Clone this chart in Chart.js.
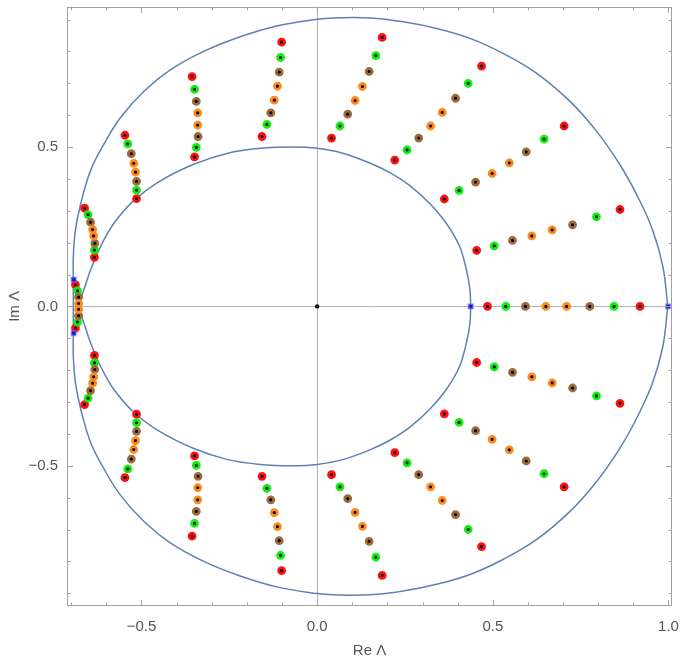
<!DOCTYPE html>
<html>
<head>
<meta charset="utf-8">
<script src="https://cdn.jsdelivr.net/npm/chart.js@4.4.1/dist/chart.umd.min.js"></script>
<style>
  html, body { margin: 0; padding: 0; background: #fff; }
  #chart { display: block; }
</style>
</head>
<body>
<canvas id="chart" width="681" height="663"></canvas>
<script>
// outer band edge, upper half (right -> left); lower half is its mirror image
const outerX = [0.998, 0.984, 0.955, 0.913, 0.861, 0.795, 0.719, 0.624, 0.529, 0.435, 0.34, 0.245, 0.15, 0.046, 0.0,
  -0.115, -0.219, -0.323, -0.418, -0.493, -0.56, -0.607, -0.645, -0.673, -0.688, -0.694, -0.694, -0.694];
const outerY = [0, 0.125, 0.239, 0.343, 0.446, 0.55, 0.644, 0.732, 0.794, 0.841, 0.872, 0.893, 0.905, 0.905, 0.901,
  0.88, 0.846, 0.8, 0.742, 0.675, 0.592, 0.509, 0.426, 0.322, 0.239, 0.156, 0.083, 0];

// inner band edge, upper half
const innerX = [0.437, 0.435, 0.425, 0.406, 0.368, 0.321, 0.264, 0.207, 0.15, 0.075, 0.0, -0.067, -0.162, -0.257,
  -0.351, -0.446, -0.522, -0.579, -0.617, -0.645, -0.664, -0.678, -0.683];
const innerY = [0, 0.052, 0.114, 0.187, 0.26, 0.322, 0.379, 0.42, 0.45, 0.48, 0.496, 0.5, 0.496, 0.48,
  0.446, 0.394, 0.332, 0.26, 0.187, 0.114, 0.052, 0.01, 0];

// eigenvalue spokes in the upper half plane (inner -> outer), mirrored below
const spokeX = [
  [0.454, 0.504, 0.556, 0.611, 0.669, 0.727, 0.795, 0.862],
  [0.362, 0.404, 0.451, 0.498, 0.547, 0.595, 0.646, 0.703],
  [0.221, 0.256, 0.289, 0.323, 0.356, 0.394, 0.43, 0.468],
  [0.041, 0.065, 0.087, 0.108, 0.129, 0.148, 0.167, 0.185],
  [-0.157, -0.143, -0.132, -0.122, -0.113, -0.108, -0.104, -0.101],
  [-0.349, -0.344, -0.339, -0.34, -0.34, -0.344, -0.349, -0.356],
  [-0.514, -0.514, -0.514, -0.517, -0.522, -0.529, -0.539, -0.547],
  [-0.634, -0.634, -0.633, -0.636, -0.639, -0.645, -0.652, -0.662],
];
const spokeY = [
  [0.176, 0.19, 0.207, 0.221, 0.24, 0.256, 0.281, 0.304],
  [0.337, 0.364, 0.39, 0.417, 0.45, 0.485, 0.525, 0.566],
  [0.459, 0.491, 0.528, 0.566, 0.609, 0.653, 0.7, 0.754],
  [0.528, 0.566, 0.603, 0.646, 0.69, 0.737, 0.787, 0.844],
  [0.533, 0.571, 0.607, 0.647, 0.691, 0.735, 0.781, 0.829],
  [0.469, 0.499, 0.533, 0.569, 0.607, 0.643, 0.681, 0.721],
  [0.338, 0.365, 0.392, 0.421, 0.449, 0.479, 0.51, 0.537],
  [0.154, 0.177, 0.198, 0.221, 0.241, 0.264, 0.288, 0.308],
];
// spoke on the real axis and the one crossing it at the left
const realX = [0.485, 0.537, 0.593, 0.651, 0.71, 0.776, 0.845, 0.919];
const leftX = [-0.688, -0.682, -0.679, -0.679, -0.679, -0.679, -0.682, -0.688];
const leftY = [0.068, 0.049, 0.029, 0.009, -0.009, -0.029, -0.049, -0.068];

// band edge points (blue)
const edgeX = [0.437, 0.999, -0.693, -0.693];
const edgeY = [0, 0, 0.084, -0.084];

const dotColors = ["red", "green", "brown", "orange", "orange", "brown", "green", "red"];
const xTicks = [-0.5, 0, 0.5, 1];
const yTicks = [-0.5, 0, 0.5];

const palette = { red: "#ff1010", green: "#10ee10", brown: "#9c6b3c", orange: "#ff8a1c" };
const curveColor = "rgb(94,129,181)";
const textColor = "#555";
const font = { family: "Liberation Sans", size: 15 };

function closedCurve(xs, ys) {
  const pts = xs.map((x, i) => ({ x: x, y: ys[i] }));
  for (let i = xs.length - 2; i >= 0; i--) pts.push({ x: xs[i], y: -ys[i] });
  return pts;
}

function dotsOf(color) {
  const pts = [];
  dotColors.forEach((c, i) => {
    if (c !== color) return;
    spokeX.forEach((sx, k) => {
      pts.push({ x: sx[i], y: spokeY[k][i] });
      pts.push({ x: sx[i], y: -spokeY[k][i] });
    });
    pts.push({ x: realX[i], y: 0 });
    pts.push({ x: leftX[i], y: leftY[i] });
  });
  return pts;
}

const fmt = v => v.toFixed(1).replace("-", "\u2212");

function noPadding(s) {
  s.paddingTop = 0; s.paddingBottom = 0;
  s.paddingLeft = 0; s.paddingRight = 0;
}

const framePlugin = {
  id: "frame",
  beforeDatasetsDraw(chart) {
    const { ctx, chartArea: a, scales: { x, y } } = chart;
    const x0 = Math.round(x.getPixelForValue(0)) + 0.5;
    const y0 = Math.round(y.getPixelForValue(0)) + 0.5;
    ctx.save();
    ctx.strokeStyle = "#b4b4b4";
    ctx.lineWidth = 1;
    ctx.beginPath();
    ctx.moveTo(x0, a.top); ctx.lineTo(x0, a.bottom);
    ctx.moveTo(a.left, y0); ctx.lineTo(a.right, y0);
    ctx.stroke();
    ctx.restore();
  },
  afterDraw(chart) {
    const { ctx, chartArea: a, scales: { x, y } } = chart;
    ctx.save();
    ctx.strokeStyle = "#a0a0a0";
    ctx.lineWidth = 1;
    ctx.strokeRect(Math.round(a.left) + 0.5, Math.round(a.top) + 0.5,
      Math.round(a.right - a.left) - 1, Math.round(a.bottom - a.top) - 1);
    ctx.beginPath();
    for (let n = -7; n <= 10; n++) {
      const px = Math.round(x.getPixelForValue(n / 10)) + 0.5;
      const len = n % 5 === 0 ? 6 : 3.5;
      ctx.moveTo(px, a.bottom); ctx.lineTo(px, a.bottom - len);
      ctx.moveTo(px, a.top); ctx.lineTo(px, a.top + len);
    }
    for (let n = -9; n <= 9; n++) {
      const py = Math.round(y.getPixelForValue(n / 10)) + 0.5;
      const len = n % 5 === 0 ? 6 : 3.5;
      ctx.moveTo(a.left, py); ctx.lineTo(a.left + len, py);
      ctx.moveTo(a.right, py); ctx.lineTo(a.right - len, py);
    }
    ctx.stroke();
    ctx.restore();
  }
};

const dotSet = (color, order) => ({
  data: dotsOf(color),
  showLine: false,
  pointRadius: 3,
  pointBorderWidth: 2.8,
  pointBackgroundColor: "#000",
  pointBorderColor: palette[color],
  order: order
});

new Chart(document.getElementById("chart"), {
  type: "scatter",
  data: {
    datasets: [
      { data: closedCurve(outerX, outerY), showLine: true, borderColor: curveColor, borderWidth: 1.5,
        pointRadius: 0, tension: 0.4, order: 10 },
      { data: closedCurve(innerX, innerY), showLine: true, borderColor: curveColor, borderWidth: 1.5,
        pointRadius: 0, tension: 0.3, order: 9 },
      dotSet("red", 5),
      dotSet("green", 4),
      dotSet("brown", 3),
      dotSet("orange", 2),
      { data: edgeX.map((v, i) => ({ x: v, y: edgeY[i] })), showLine: false, pointStyle: "rect",
        pointRadius: 3.2, pointBorderWidth: 1.8, pointBackgroundColor: "#1a1ab8",
        pointBorderColor: "rgba(110,110,255,0.55)", order: 1 },
      { data: [{ x: 0, y: 0 }], showLine: false, pointRadius: 2.2, pointBorderWidth: 0,
        pointBackgroundColor: "#000", order: 0 }
    ]
  },
  options: {
    responsive: false,
    animation: false,
    layout: { padding: { top: 2, right: 9, left: 0, bottom: 0 } },
    plugins: { legend: { display: false }, tooltip: { enabled: false } },
    scales: {
      x: {
        type: "linear", min: -0.712, max: 1.01,
        afterBuildTicks: s => { s.ticks = xTicks.map(v => ({ value: v })); },
        afterFit: s => { s.height = 57; noPadding(s); },
        grid: { display: false, drawTicks: false },
        border: { display: false },
        ticks: { padding: 12, color: textColor, font: font, maxRotation: 0, autoSkip: false, callback: v => fmt(v) },
        title: { display: true, text: "Re \u039b", color: textColor, font: font, padding: { top: 0, bottom: 3 } }
      },
      y: {
        type: "linear", min: -0.94, max: 0.94,
        afterBuildTicks: s => { s.ticks = yTicks.map(v => ({ value: v })); },
        afterFit: s => { s.width = 67; noPadding(s); },
        grid: { display: false, drawTicks: false },
        border: { display: false },
        ticks: { padding: 9, color: textColor, font: font, autoSkip: false, callback: v => fmt(v) },
        title: { display: true, text: "Im \u039b", color: textColor, font: font, padding: { top: 6, bottom: 0 } }
      }
    }
  },
  plugins: [framePlugin]
});
</script>
</body>
</html>
